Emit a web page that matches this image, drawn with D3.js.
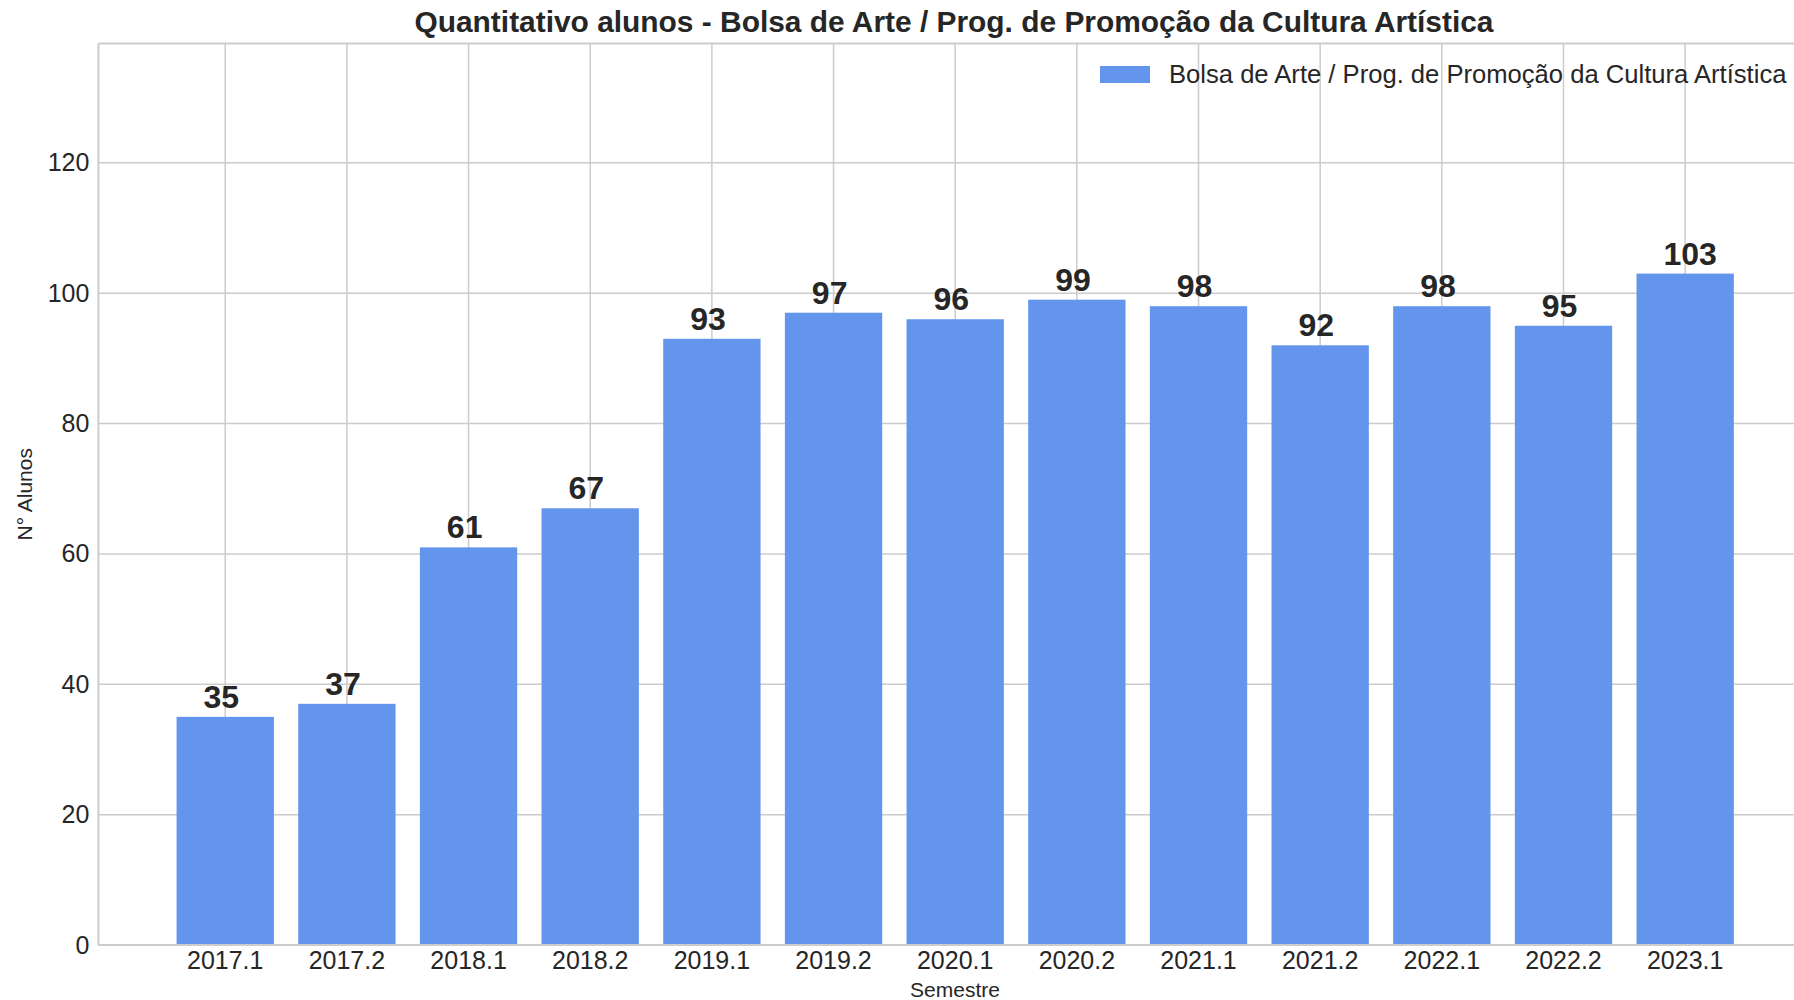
<!DOCTYPE html>
<html>
<head>
<meta charset="utf-8">
<script src="https://cdn.jsdelivr.net/npm/d3@7"></script>
<style>
  html, body { margin: 0; padding: 0; background: #fff; overflow: hidden; }
  svg { display: block; font-family: "Liberation Sans", Arial, sans-serif; }
</style>
</head>
<body>
<svg id="chart" width="1794" height="1000"></svg>
<script>
const categories = ["2017.1","2017.2","2018.1","2018.2","2019.1","2019.2","2020.1","2020.2","2021.1","2021.2","2022.1","2022.2","2023.1"];
const values = [35, 37, 61, 67, 93, 97, 96, 99, 98, 92, 98, 95, 103];
const yTicks = [0, 20, 40, 60, 80, 100, 120];
const seriesName = "Bolsa de Arte / Prog. de Promoção da Cultura Artística";
const title = "Quantitativo alunos - Bolsa de Arte / Prog. de Promoção da Cultura Artística";
const xLabel = "Semestre";
const yLabel = "N° Alunos";

const W = 1794, H = 1000;
const m = { left: 98.4, right: 1812, top: 43.5, bottom: 945 };
const textColor = "#262626", gridColor = "#cccccc", barColor = "#6495ED";

const svg = d3.select("#chart");

const x = d3.scaleBand().domain(categories).range([m.left, m.right])
  .paddingInner(0.2).paddingOuter(0.6425);
const y = d3.scaleLinear().domain([0, 138.3]).range([m.bottom, m.top]);

// grid
const grid = svg.append("g");
grid.selectAll("line.h").data(yTicks).join("line")
  .attr("x1", m.left).attr("x2", m.right)
  .attr("y1", d => y(d)).attr("y2", d => y(d))
  .attr("stroke", gridColor).attr("stroke-width", 1.5);
grid.selectAll("line.v").data(categories).join("line")
  .attr("x1", d => x(d) + x.bandwidth()/2).attr("x2", d => x(d) + x.bandwidth()/2)
  .attr("y1", m.top).attr("y2", m.bottom)
  .attr("stroke", gridColor).attr("stroke-width", 1.5);

// bars
svg.append("g").selectAll("rect").data(values).join("rect")
  .attr("x", (d, i) => x(categories[i]))
  .attr("width", x.bandwidth())
  .attr("y", d => y(d))
  .attr("height", d => y(0) - y(d))
  .attr("fill", barColor);

// value labels (left-aligned at a fixed offset from bar centre, as in the original)
svg.append("g").selectAll("text").data(values).join("text")
  .attr("x", (d, i) => x(categories[i]) + x.bandwidth()/2 - 21.7)
  .attr("y", d => y(d) - 9)
  .attr("text-anchor", "start")
  .attr("font-size", 32).attr("font-weight", "bold")
  .attr("fill", textColor)
  .text(d => d);

// spines (left, top, bottom)
const sp = svg.append("g").attr("stroke", gridColor).attr("stroke-width", 2).attr("fill", "none");
sp.append("line").attr("x1", m.left).attr("x2", m.left).attr("y1", m.top).attr("y2", m.bottom);
sp.append("line").attr("x1", m.left).attr("x2", m.right).attr("y1", m.top).attr("y2", m.top);
sp.append("line").attr("x1", m.left).attr("x2", m.right).attr("y1", m.bottom).attr("y2", m.bottom);

// axes
const xAxis = svg.append("g").attr("transform", `translate(0,${m.bottom})`)
  .call(d3.axisBottom(x).tickSize(0).tickPadding(6));
xAxis.select(".domain").remove();
xAxis.selectAll("text").attr("font-size", 25).attr("fill", textColor)
  .attr("font-family", "Liberation Sans, Arial, sans-serif");

const yAxis = svg.append("g").attr("transform", `translate(${m.left},0)`)
  .call(d3.axisLeft(y).tickValues(yTicks).tickSize(0).tickPadding(9));
yAxis.select(".domain").remove();
yAxis.selectAll("text").attr("font-size", 25).attr("fill", textColor)
  .attr("font-family", "Liberation Sans, Arial, sans-serif");

// axis labels
svg.append("text").attr("x", 955).attr("y", 997)
  .attr("text-anchor", "middle").attr("font-size", 21).attr("fill", textColor)
  .text(xLabel);
svg.append("text").attr("transform", `translate(32,${(m.top + m.bottom)/2}) rotate(-90)`)
  .attr("text-anchor", "middle").attr("font-size", 21).attr("fill", textColor)
  .text(yLabel);

// title
svg.append("text").attr("x", 954).attr("y", 32)
  .attr("text-anchor", "middle").attr("font-size", 29.9).attr("font-weight", "bold")
  .attr("fill", textColor).text(title);

// legend
const lg = svg.append("g");
lg.append("rect").attr("x", 1100).attr("y", 66).attr("width", 50).attr("height", 17).attr("fill", barColor);
lg.append("text").attr("x", 1169).attr("y", 83).attr("font-size", 25.6).attr("fill", textColor).text(seriesName);
</script>
</body>
</html>
